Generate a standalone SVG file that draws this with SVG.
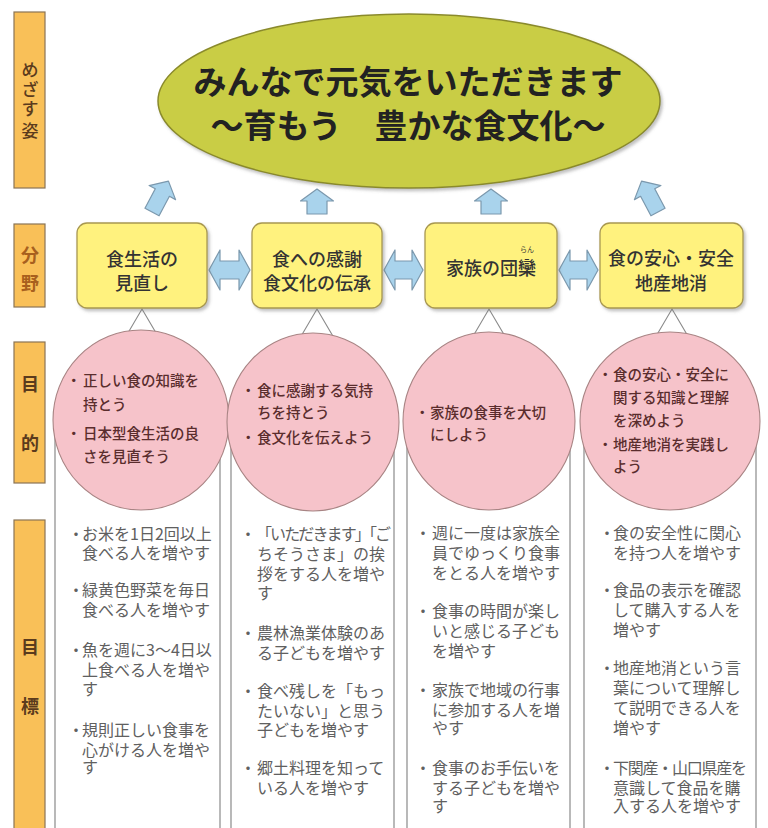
<svg xmlns="http://www.w3.org/2000/svg" width="768" height="828" viewBox="0 0 768 828">
<defs>
<style>
text{font-family:"Noto Sans CJK JP","Noto Sans CJK SC",sans-serif}
.bar{fill:#f9c058;stroke:#8a7455;stroke-width:1.2}
.side{font-size:18px;font-weight:700;fill:#5b3b1d;text-anchor:middle}
.side2{font-size:18px;font-weight:700;fill:#a8601e;text-anchor:middle}
.title{font-size:33px;font-weight:700;fill:#222;text-anchor:middle}
.boxr{fill:#fff27e;stroke:#a89850;stroke-width:1.3}
.boxt{font-size:18px;font-weight:500;fill:#333;text-anchor:middle}
.circ{fill:#f6c3ca;stroke:#a88484;stroke-width:1.1}
.ct{font-size:14.5px;font-weight:500;fill:#5a2d2d}
.col{fill:#fff;stroke:#8a8a8a;stroke-width:1.2}
.gt{font-size:16px;font-weight:400;fill:#606060}
.arr{fill:#a9d3ec;stroke:#7b98ad;stroke-width:1.2;stroke-linejoin:round}
.tri{fill:#fff;stroke:#8a8a8a;stroke-width:1.1}
</style>
<filter id="sh" x="-10%" y="-10%" width="120%" height="130%">
<feDropShadow dx="2" dy="2.5" stdDeviation="1.5" flood-color="#777" flood-opacity="0.45"/>
</filter>
<path id="upv" d="M0,-13 L16.5,-1 L10,-1 L10,12 L-10,12 L-10,-1 L-16.5,-1 Z"/>
<path id="upt" d="M0,-18 L15,-5 L8,-5 L8,17 L-8,17 L-8,-5 L-15,-5 Z"/>
</defs>
<rect width="768" height="828" fill="#fff"/>

<g id="columns">
<rect class="col" x="55" y="420" width="165" height="420"/>
<rect class="col" x="231" y="420" width="163" height="420"/>
<rect class="col" x="407" y="420" width="163" height="420"/>
<rect class="col" x="584" y="420" width="172" height="420"/>
</g>

<g id="connectors">
<use href="#upt" class="arr" transform="translate(160,197) rotate(28)"/>
<use href="#upv" class="arr" transform="translate(317,202)"/>
<use href="#upv" class="arr" transform="translate(491,202)"/>
<use href="#upt" class="arr" transform="translate(650,197) rotate(-28)"/>
<path class="arr" d="M209,270 L220,250 L220,261 L239,261 L239,250 L250,270 L239,290 L239,279 L220,279 L220,290 Z"/>
<path class="arr" d="M384,270 L395,250 L395,261 L412,261 L412,250 L423,270 L412,290 L412,279 L395,279 L395,290 Z"/>
<path class="arr" d="M559,270 L570,250 L570,261 L587,261 L587,250 L598,270 L587,290 L587,279 L570,279 L570,290 Z"/>
<path class="tri" d="M125,338 L142,309 L159,338 Z"/>
<path class="tri" d="M300,338 L317,309 L334,338 Z"/>
<path class="tri" d="M472,338 L489,309 L506,338 Z"/>
<path class="tri" d="M655,338 L672,309 L689,338 Z"/>
</g>

<g id="side-mezasu">
<rect class="bar" x="14" y="12" width="31" height="176"/>
<text class="side" style="font-size:17px;font-weight:500"><tspan x="30" y="76">め</tspan><tspan x="30" y="96">ざ</tspan><tspan x="30" y="115">す</tspan><tspan x="30" y="137">姿</tspan></text>
</g>
<g id="side-bunya">
<rect class="bar" x="14" y="224" width="31" height="83"/>
<text class="side2"><tspan x="30" y="262">分</tspan><tspan x="30" y="290">野</tspan></text>
</g>
<g id="side-mokuteki">
<rect class="bar" x="14" y="342" width="31" height="141"/>
<text class="side" x="30" y="391">目</text>
<text class="side" x="30" y="450">的</text>
</g>
<g id="side-mokuhyo">
<rect class="bar" x="14" y="520" width="31" height="320"/>
<text class="side" x="30" y="654">目</text>
<text class="side" x="30" y="713">標</text>
</g>

<g id="goal">
<ellipse cx="409" cy="101" rx="251" ry="87" fill="#c9cd45" stroke="#8a8a2c" stroke-width="1.5" filter="url(#sh)"/>
<text class="title"><tspan x="408" y="94">みんなで元気をいただきます</tspan><tspan x="408" y="138">～育もう　豊かな食文化～</tspan></text>
</g>

<g id="field1">
<rect class="boxr" x="77" y="223" width="130" height="85" rx="10" filter="url(#sh)"/>
<text class="boxt"><tspan x="142" y="266">食生活の</tspan><tspan x="142" y="290">見直し</tspan></text>
</g>
<g id="field2">
<rect class="boxr" x="252" y="223" width="130" height="85" rx="10" filter="url(#sh)"/>
<text class="boxt"><tspan x="317" y="266">食への感謝</tspan><tspan x="317" y="290">食文化の伝承</tspan></text>
</g>
<g id="field3">
<rect class="boxr" x="425" y="223" width="132" height="85" rx="10" filter="url(#sh)"/>
<text class="boxt" x="491" y="275">家族の団欒</text>
<text x="527" y="252" style="font-size:7px;fill:#333;text-anchor:middle">らん</text>
</g>
<g id="field4">
<rect class="boxr" x="600" y="223" width="143" height="85" rx="10" filter="url(#sh)"/>
<text class="boxt"><tspan x="671" y="265">食の安心・安全</tspan><tspan x="671" y="290">地産地消</tspan></text>
</g>

<g id="purpose1">
<ellipse class="circ" cx="141" cy="420" rx="88" ry="90"/>
<text class="ct" x="66.5" y="386">・<tspan x="83">正しい食の知識を</tspan><tspan x="83" y="410">持とう</tspan></text>
<text class="ct" x="66.5" y="439">・<tspan x="83">日本型食生活の良</tspan><tspan x="83" y="462">さを見直そう</tspan></text>
</g>
<g id="purpose2">
<ellipse class="circ" cx="313" cy="422" rx="86" ry="89"/>
<text class="ct" x="241" y="396">・<tspan x="257">食に感謝する気持</tspan><tspan x="257" y="418">ちを持とう</tspan></text>
<text class="ct" x="241" y="443">・<tspan x="257">食文化を伝えよう</tspan></text>
</g>
<g id="purpose3">
<ellipse class="circ" cx="489" cy="421" rx="86" ry="89"/>
<text class="ct" x="415" y="418">・<tspan x="430">家族の食事を大切</tspan><tspan x="430" y="440">にしよう</tspan></text>
</g>
<g id="purpose4">
<ellipse class="circ" cx="670" cy="421" rx="90" ry="89"/>
<text class="ct" x="598" y="380">・<tspan x="613">食の安心・安全に</tspan><tspan x="613" y="403">関する知識と理解</tspan><tspan x="613" y="426">を深めよう</tspan></text>
<text class="ct" x="598" y="450">・<tspan x="613">地産地消を実践し</tspan><tspan x="613" y="472">よう</tspan></text>
</g>

<g id="target1">
<text class="gt" x="68" y="539.5">・<tspan x="82">お米を1日2回以上</tspan><tspan x="82" y="558.5">食べる人を増やす</tspan></text>
<text class="gt" x="68" y="595.5">・<tspan x="82">緑黄色野菜を毎日</tspan><tspan x="82" y="615.5">食べる人を増やす</tspan></text>
<text class="gt" x="68" y="655.5">・<tspan x="82">魚を週に3～4日以</tspan><tspan x="82" y="675.5">上食べる人を増や</tspan><tspan x="82" y="694.5">す</tspan></text>
<text class="gt" x="68" y="735.5">・<tspan x="82">規則正しい食事を</tspan><tspan x="82" y="755.5">心がける人を増や</tspan><tspan x="82" y="773">す</tspan></text>
</g>
<g id="target2">
<text class="gt" x="240" y="539.5">・<tspan x="256" textLength="135" lengthAdjust="spacing">「いただきます」「ご</tspan><tspan x="257" y="559.5">ちそうさま」の挨</tspan><tspan x="257" y="579.5">拶をする人を増や</tspan><tspan x="257" y="599">す</tspan></text>
<text class="gt" x="240" y="638.5">・<tspan x="257">農林漁業体験のあ</tspan><tspan x="257" y="658.5">る子どもを増やす</tspan></text>
<text class="gt" x="240" y="696.5">・<tspan x="257">食べ残しを「もっ</tspan><tspan x="257" y="716.5">たいない」と思う</tspan><tspan x="257" y="735.5">子どもを増やす</tspan></text>
<text class="gt" x="240" y="773.5">・<tspan x="257">郷土料理を知って</tspan><tspan x="257" y="793.5">いる人を増やす</tspan></text>
</g>
<g id="target3">
<text class="gt" x="415" y="538.5">・<tspan x="432">週に一度は家族全</tspan><tspan x="432" y="558.5">員でゆっくり食事</tspan><tspan x="432" y="578.5">をとる人を増やす</tspan></text>
<text class="gt" x="415" y="616.5">・<tspan x="432">食事の時間が楽し</tspan><tspan x="432" y="636.5">いと感じる子ども</tspan><tspan x="432" y="656.5">を増やす</tspan></text>
<text class="gt" x="415" y="695.5">・<tspan x="432">家族で地域の行事</tspan><tspan x="432" y="715.5">に参加する人を増</tspan><tspan x="432" y="734">やす</tspan></text>
<text class="gt" x="415" y="773.5">・<tspan x="432">食事のお手伝いを</tspan><tspan x="432" y="793.5">する子どもを増や</tspan><tspan x="432" y="812">す</tspan></text>
</g>
<g id="target4">
<text class="gt" x="599" y="538.5">・<tspan x="613">食の安全性に関心</tspan><tspan x="613" y="558.5">を持つ人を増やす</tspan></text>
<text class="gt" x="599" y="595.5">・<tspan x="613">食品の表示を確認</tspan><tspan x="613" y="615.5">して購入する人を</tspan><tspan x="613" y="635.5">増やす</tspan></text>
<text class="gt" x="599" y="673.5">・<tspan x="613">地産地消という言</tspan><tspan x="613" y="693.5">葉について理解し</tspan><tspan x="613" y="713.5">て説明できる人を</tspan><tspan x="613" y="733.5">増やす</tspan></text>
<text class="gt" x="599" y="773.5">・<tspan x="613" textLength="134" lengthAdjust="spacing">下関産・山口県産を</tspan><tspan x="613" y="793.5">意識して食品を購</tspan><tspan x="613" y="811.5">入する人を増やす</tspan></text>
</g>
</svg>
